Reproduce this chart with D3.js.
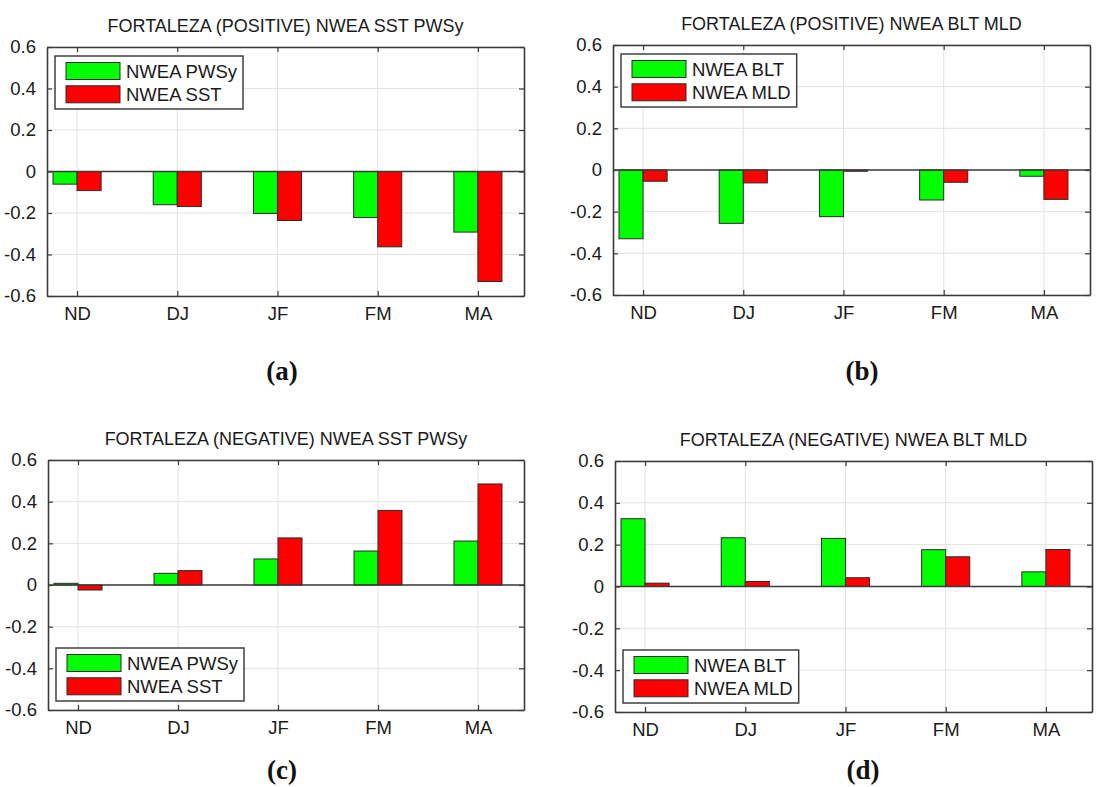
<!DOCTYPE html>
<html>
<head>
<meta charset="utf-8">
<script src="https://cdn.jsdelivr.net/npm/d3@7"></script>
<style>
body{margin:0;background:#fff;}
svg{display:block;}
</style>
</head>
<body>
<svg id="fig" width="1110" height="787"></svg>
<script>
// values
var seasons = ["ND", "DJ", "JF", "FM", "MA"];
var yTicks = [-0.6, -0.4, -0.2, 0, 0.2, 0.4, 0.6];

var posPWSy = [-0.061, -0.160, -0.202, -0.222, -0.292];
var posSST  = [-0.092, -0.169, -0.236, -0.363, -0.530];
var posBLT  = [-0.330, -0.256, -0.224, -0.144, -0.030];
var posMLD  = [-0.054, -0.062, -0.006, -0.059, -0.141];
var negPWSy = [0.008, 0.056, 0.125, 0.163, 0.211];
var negSST  = [-0.024, 0.069, 0.226, 0.358, 0.485];
var negBLT  = [0.324, 0.233, 0.230, 0.176, 0.070];
var negMLD  = [0.016, 0.024, 0.042, 0.142, 0.177];

var titles = ["FORTALEZA (POSITIVE) NWEA SST PWSy", "FORTALEZA (POSITIVE) NWEA BLT MLD",
              "FORTALEZA (NEGATIVE) NWEA SST PWSy", "FORTALEZA (NEGATIVE) NWEA BLT MLD"];
var legendNames = [["NWEA PWSy", "NWEA SST"], ["NWEA BLT", "NWEA MLD"],
                   ["NWEA PWSy", "NWEA SST"], ["NWEA BLT", "NWEA MLD"]];
var panelTags = ["(a)", "(b)", "(c)", "(d)"];

var panels = [
  {box: {l: 47, r: 524, t: 47, b: 296}, s: [posPWSy, posSST], leg: "top", tagX: 282, tagY: 380},
  {box: {l: 613, r: 1090, t: 45, b: 295}, s: [posBLT, posMLD], leg: "top", tagX: 862, tagY: 380},
  {box: {l: 48, r: 524, t: 460, b: 710}, s: [negPWSy, negSST], leg: "bottom", tagX: 282, tagY: 779},
  {box: {l: 615, r: 1092, t: 461, b: 712}, s: [negBLT, negMLD], leg: "bottom", tagX: 863, tagY: 779}
];

var colors = ["#00ff00", "#ff0000"];
var axisCol = "#3a3a3a";
var font = "'Liberation Sans', Arial, sans-serif";

var svg = d3.select("#fig");

panels.forEach(function(p, k){
  var b = p.box;
  var g = svg.append("g");

  var xScale = d3.scaleLinear().domain([0.7, 5.46]).range([b.l, b.r]);
  var yScale = d3.scaleLinear().domain([-0.6, 0.6]).range([b.b, b.t]);
  var barW = xScale(1.24) - xScale(1);

  // grid
  g.selectAll(".gy").data(yTicks).enter().append("line")
    .attr("x1", b.l).attr("x2", b.r)
    .attr("y1", function(d){return yScale(d)}).attr("y2", function(d){return yScale(d)})
    .attr("stroke", "#e2e2e2").attr("stroke-width", 1);
  g.selectAll(".gx").data(seasons).enter().append("line")
    .attr("x1", function(d,i){return xScale(i+1)}).attr("x2", function(d,i){return xScale(i+1)})
    .attr("y1", b.t).attr("y2", b.b)
    .attr("stroke", "#e2e2e2").attr("stroke-width", 1);

  // bars
  p.s.forEach(function(series, j){
    g.selectAll(".bar" + j).data(series).enter().append("rect")
      .attr("x", function(d,i){return xScale(i+1) - barW + j*barW})
      .attr("y", function(d){return yScale(Math.max(0, d))})
      .attr("width", barW)
      .attr("height", function(d){return Math.abs(yScale(d) - yScale(0))})
      .attr("fill", colors[j])
      .attr("stroke", "#2a2a2a").attr("stroke-width", 1);
  });

  // baseline
  g.append("line").attr("x1", b.l).attr("x2", b.r)
    .attr("y1", yScale(0)).attr("y2", yScale(0))
    .attr("stroke", axisCol).attr("stroke-width", 1.3);

  // axes
  var fmt = function(d){return d === 0 ? "0" : d.toFixed(1)};
  var yAxis = d3.axisLeft(yScale).tickValues(yTicks).tickFormat(fmt).tickSizeInner(-5).tickSizeOuter(0).tickPadding(11);
  var yAxisR = d3.axisRight(yScale).tickValues(yTicks).tickFormat("").tickSizeInner(-5).tickSizeOuter(0);
  var xAxis = d3.axisBottom(xScale).tickValues([1,2,3,4,5]).tickFormat(function(d){return seasons[d-1]}).tickSizeInner(-5).tickSizeOuter(0).tickPadding(11);
  var xAxisT = d3.axisTop(xScale).tickValues([1,2,3,4,5]).tickFormat("").tickSizeInner(-5).tickSizeOuter(0);

  var ay = g.append("g").attr("transform", "translate(" + b.l + ",0)").call(yAxis);
  var ayr = g.append("g").attr("transform", "translate(" + b.r + ",0)").call(yAxisR);
  var ax = g.append("g").attr("transform", "translate(0," + b.b + ")").call(xAxis);
  var axt = g.append("g").attr("transform", "translate(0," + b.t + ")").call(xAxisT);

  [ay, ayr, ax, axt].forEach(function(a){
    a.select(".domain").attr("stroke", axisCol).attr("stroke-width", 1.6);
    a.selectAll(".tick line").attr("stroke", axisCol).attr("stroke-width", 1.2);
    a.selectAll(".tick text").attr("fill", "#1a1a1a").style("font-family", font).style("font-size", "18.5px");
  });
  ax.selectAll(".tick text").attr("dy", "0.72em");

  // title
  g.append("text").attr("x", (b.l + b.r) / 2).attr("y", b.t - 15)
    .attr("text-anchor", "middle").style("font-family", font).style("font-size", "18px")
    .attr("fill", "#1a1a1a").text(titles[k]);

  // legend
  var lg = g.append("g");
  var lx = b.l + 8;
  var lh = 53;
  var ly = p.leg === "top" ? b.t + 9 : b.b - 9 - lh;
  var frame = lg.append("rect").attr("x", lx).attr("y", ly).attr("height", lh)
    .attr("fill", "#fff").attr("stroke", "#404040").attr("stroke-width", 1.5);
  var maxW = 0;
  legendNames[k].forEach(function(name, j){
    var sy = ly + 6.5 + j * 23.3;
    lg.append("rect").attr("x", lx + 11).attr("y", sy).attr("width", 54).attr("height", 17)
      .attr("fill", colors[j]).attr("stroke", "#2a2a2a").attr("stroke-width", 1);
    var t = lg.append("text").attr("x", lx + 71).attr("y", sy + 15)
      .style("font-family", font).style("font-size", "18.5px").attr("fill", "#1a1a1a").text(name);
    maxW = Math.max(maxW, t.node().getComputedTextLength());
  });
  frame.attr("width", 71 + maxW + 6);

  // panel tag
  svg.append("text").attr("x", p.tagX).attr("y", p.tagY).attr("text-anchor", "middle")
    .style("font-family", "'Liberation Serif', 'Times New Roman', serif").style("font-size", "27px")
    .style("font-weight", "bold").attr("fill", "#111").text(panelTags[k]);
});
</script>
</body>
</html>
